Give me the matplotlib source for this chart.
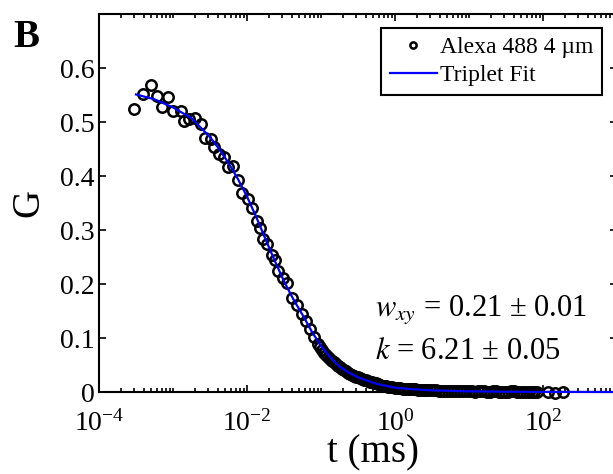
import matplotlib
matplotlib.use("Agg")
import matplotlib.pyplot as plt
from matplotlib.ticker import FixedLocator, LogLocator, NullFormatter

plt.rcParams["font.family"] = ["Liberation Serif", "DejaVu Serif"]
plt.rcParams["mathtext.fontset"] = "stix"
plt.rcParams["axes.unicode_minus"] = False

# ==============================
# Data
# ==============================
t_data = [2.95e-4, 3.89e-4, 5.01e-4, 6.03e-4, 7.08e-4, 8.51e-4, 1.0e-3, 1.29e-3,
          1.41e-3, 1.66e-3, 2.0e-3, 2.40e-3, 2.69e-3, 3.24e-3, 3.55e-3, 4.17e-3,
          4.90e-3, 5.50e-3, 6.46e-3, 7.59e-3, 8.51e-3, 1.023e-2, 1.175e-2,
          0.01365, 0.0150, 0.01644, 0.01862, 0.02178, 0.02388, 0.02624, 0.03062,
          0.03475, 0.04055, 0.04742, 0.05534, 0.06266, 0.07096, 0.08035,
          0.09099, 0.0969, 0.1033, 0.1099, 0.1169, 0.1244, 0.1324, 0.1409,
          0.1500, 0.1596, 0.1698, 0.1807, 0.1923, 0.2047, 0.2178, 0.2318,
          0.2466, 0.2624, 0.2793, 0.2972, 0.3162, 0.3365, 0.3581, 0.3811,
          0.4055, 0.4315, 0.4592, 0.4887, 0.5200, 0.5534, 0.5888, 0.6266,
          0.6668, 0.7096, 0.7551, 0.8035, 0.8551, 0.9247, 1.0, 1.081,
          1.169, 1.263, 1.365, 1.476, 1.596, 1.724, 1.862, 2.014,
          2.178, 2.353, 2.541, 2.748, 2.972, 3.262, 3.581, 3.931,
          4.315, 4.737, 5.200, 5.708, 6.266, 6.879, 7.551, 8.289,
          9.099, 9.986, 10.96, 12.02, 13.18, 14.45, 15.85, 17.38,
          19.05, 20.89, 22.91, 25.41, 28.18, 30.9, 33.88, 37.15,
          40.74, 44.67, 48.98, 53.7, 58.88, 64.56, 70.79, 76.74,
          83.18, 117.5, 144.5, 186.2]
g_data = [0.524, 0.552, 0.568, 0.548, 0.528, 0.546, 0.520, 0.520,
          0.502, 0.505, 0.507, 0.496, 0.470, 0.469, 0.454, 0.441,
          0.435, 0.417, 0.419, 0.392, 0.369, 0.358, 0.340,
          0.317, 0.304, 0.284, 0.275, 0.253, 0.244, 0.225, 0.212,
          0.201, 0.175, 0.161, 0.145, 0.132, 0.117, 0.101,
          0.088, 0.083, 0.078, 0.073, 0.068, 0.065, 0.061, 0.058,
          0.055, 0.051, 0.048, 0.046, 0.043, 0.040, 0.038, 0.036,
          0.034, 0.032, 0.030, 0.028, 0.027, 0.026, 0.024, 0.023,
          0.022, 0.020, 0.019, 0.018, 0.017, 0.016, 0.014, 0.013,
          0.012, 0.012, 0.011, 0.010, 0.009, 0.009, 0.008, 0.007,
          0.007, 0.006, 0.006, 0.006, 0.005, 0.005, 0.005, 0.004,
          0.004, 0.004, 0.004, 0.003, 0.003, 0.003, 0.003, 0.002,
          0.002, 0.002, 0.002, 0.002, 0.002, 0.001, 0.001, 0.001,
          0.001, 0.001, 0.001, 0.000, 0.001, 0.001, 0.001, 0.000,
          0.000, 0.001, 0.001, 0.000, 0.000, 0.000, 0.000, 0.001,
          0.001, 0.000, 0.000, 0.000, 0.000, 0.000, 0.000, 0.000,
          0.000, 0.000, -0.001, 0.000]

t_fit = [3.16e-4, 5.62e-4, 1e-3, 1.778e-3, 3.162e-3, 4.217e-3, 5.623e-3, 7.499e-3,
         0.01, 0.01334, 0.01778, 0.02371, 0.03162, 0.04217, 0.05623, 0.07499,
         0.1, 0.1334, 0.1778, 0.2371, 0.3162, 0.5623, 1.0, 1.778, 3.162, 10.0,
         31.62, 100.0, 1000.0]
g_fit = [0.551, 0.542, 0.527, 0.507, 0.472, 0.450, 0.424, 0.395,
         0.362, 0.324, 0.283, 0.243, 0.205, 0.172, 0.143, 0.112,
         0.085, 0.064, 0.047, 0.036, 0.027, 0.015, 0.008, 0.005, 0.003, 0.0012,
         0.0005, 0.0002, 0.0]

x_major = [1e-4, 1e-2, 1e0, 1e2]
y_ticks = [0, 0.1, 0.2, 0.3, 0.4, 0.5, 0.6]
y_labels = ["0", "0.1", "0.2", "0.3", "0.4", "0.5", "0.6"]

# ==============================
# Figure
# ==============================
W, H = 613, 474
fig = plt.figure(figsize=(W / 100, H / 100), dpi=100)
ax = fig.add_axes([99 / W, 1 - 392 / H, (617 - 99) / W, (392 - 14) / H])

ax.semilogx(t_data, g_data, "o", ms=7.5, mfc="none", mec="black", mew=1.8,
            label="Alexa 488 4 µm", zorder=2, clip_on=False)
ax.semilogx(t_fit, g_fit, "-", color="#0000ff", lw=1.6, label="Triplet Fit",
            zorder=3, clip_on=False)

ax.set_xlim(1e-4, 1e3)
ax.set_ylim(0, 0.7)

ax.xaxis.set_major_locator(FixedLocator(x_major))
ax.xaxis.set_minor_locator(LogLocator(base=10, subs=range(1, 10), numticks=50))
ax.xaxis.set_minor_formatter(NullFormatter())
ax.set_yticks(y_ticks)
ax.set_yticklabels(y_labels)

ax.tick_params(which="both", direction="in", top=True, right=True, width=1.2,
               labelsize=20)
ax.tick_params(which="major", length=5)
ax.tick_params(which="minor", length=3)
ax.tick_params(axis="x", pad=13)
ax.tick_params(axis="y", pad=3)
for s in ax.spines.values():
    s.set_linewidth(1.5)

leg = ax.legend(loc="upper right", bbox_to_anchor=(602 / W, 1 - 28 / H),
                bbox_transform=fig.transFigure, borderaxespad=0, fontsize=17,
                fancybox=False, framealpha=1, edgecolor="black",
                handlelength=2.0, handletextpad=0.15, labelspacing=0.3,
                borderpad=0.35, markerscale=0.6)
leg.get_frame().set_linewidth(1.5)

fig.text(375 / W, 1 - 316 / H, r"$w_{xy}$ = 0.21 ± 0.01", fontsize=22, va="baseline")
fig.text(375 / W, 1 - 359 / H, r"$k$ = 6.21 ± 0.05", fontsize=22, va="baseline")

fig.text(29 / W, 1 - 203 / H, "G", fontsize=28, rotation=90, ha="center", va="center")
fig.text(373 / W, 1 - 462 / H, "t (ms)", fontsize=28, ha="center", va="baseline")
fig.text(13 / W, 1 - 47 / H, "B", fontsize=28, fontweight="bold", va="baseline")

fig.savefig("out.png", dpi=100)
